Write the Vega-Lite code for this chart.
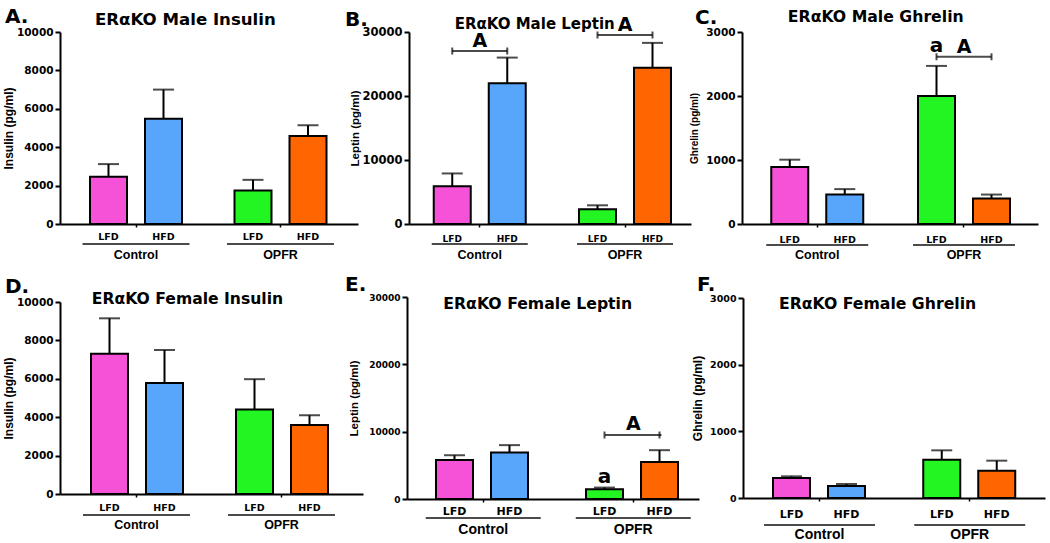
{
  "$schema": "https://vega.github.io/schema/vega-lite/v6.json",
  "background": "white",
  "padding": {"left": 2, "top": 6, "right": 5, "bottom": 5},
  "config": {
    "view": {"stroke": null},
    "font": "DejaVu Sans",
    "axis": {"domainColor": "black", "domainWidth": 2, "tickColor": "black", "labelColor": "black", "titleColor": "black", "grid": false, "labelFontWeight": "bold", "titleFontWeight": "bold", "labelOverlap": false},
    "axisX": {"tickSize": 3, "tickWidth": 1.5, "labelFont": "Liberation Sans", "labelFontSize": 12.5, "labelPadding": 21, "labelAngle": 0},
    "axisY": {"tickSize": 5, "tickWidth": 2, "labelFont": "DejaVu Sans", "labelFontSize": 10.5, "labelPadding": 2, "titleFont": "Liberation Sans", "titleFontSize": 12, "titlePadding": 1, "labelOverlap": false},
    "bar": {"stroke": "black", "strokeWidth": 2},
    "rule": {"color": "black", "strokeWidth": 2},
    "tick": {"color": "black", "thickness": 2},
    "text": {"font": "DejaVu Sans", "fontWeight": "bold", "color": "black"},
    "title": {"anchor": "start", "frame": "group", "font": "DejaVu Sans", "fontSize": 20, "fontWeight": "bold", "color": "black", "subtitleFont": "DejaVu Sans", "subtitleFontSize": 16, "subtitleFontWeight": "bold", "subtitleColor": "black"}
  },
  "datasets": {
    "bars": [
      {"panel": "A", "group": "Control", "diet": "LFD", "key": "Control LFD", "mean": 2460, "upper": 3120},
      {"panel": "A", "group": "Control", "diet": "HFD", "key": "Control HFD", "mean": 5480, "upper": 7000},
      {"panel": "A", "group": "OPFR", "diet": "LFD", "key": "OPFR LFD", "mean": 1750, "upper": 2300},
      {"panel": "A", "group": "OPFR", "diet": "HFD", "key": "OPFR HFD", "mean": 4580, "upper": 5140},
      {"panel": "B", "group": "Control", "diet": "LFD", "key": "Control LFD", "mean": 5900, "upper": 7900},
      {"panel": "B", "group": "Control", "diet": "HFD", "key": "Control HFD", "mean": 22000, "upper": 26000},
      {"panel": "B", "group": "OPFR", "diet": "LFD", "key": "OPFR LFD", "mean": 2300, "upper": 2920},
      {"panel": "B", "group": "OPFR", "diet": "HFD", "key": "OPFR HFD", "mean": 24400, "upper": 28300},
      {"panel": "C", "group": "Control", "diet": "LFD", "key": "Control LFD", "mean": 890, "upper": 1005},
      {"panel": "C", "group": "Control", "diet": "HFD", "key": "Control HFD", "mean": 460, "upper": 545},
      {"panel": "C", "group": "OPFR", "diet": "LFD", "key": "OPFR LFD", "mean": 2000, "upper": 2470},
      {"panel": "C", "group": "OPFR", "diet": "HFD", "key": "OPFR HFD", "mean": 400, "upper": 460},
      {"panel": "D", "group": "Control", "diet": "LFD", "key": "Control LFD", "mean": 7300, "upper": 9150},
      {"panel": "D", "group": "Control", "diet": "HFD", "key": "Control HFD", "mean": 5780, "upper": 7500},
      {"panel": "D", "group": "OPFR", "diet": "LFD", "key": "OPFR LFD", "mean": 4400, "upper": 5980},
      {"panel": "D", "group": "OPFR", "diet": "HFD", "key": "OPFR HFD", "mean": 3600, "upper": 4100},
      {"panel": "E", "group": "Control", "diet": "LFD", "key": "Control LFD", "mean": 5800, "upper": 6500},
      {"panel": "E", "group": "Control", "diet": "HFD", "key": "Control HFD", "mean": 6900, "upper": 8000},
      {"panel": "E", "group": "OPFR", "diet": "LFD", "key": "OPFR LFD", "mean": 1450, "upper": 1700},
      {"panel": "E", "group": "OPFR", "diet": "HFD", "key": "OPFR HFD", "mean": 5500, "upper": 7250},
      {"panel": "F", "group": "Control", "diet": "LFD", "key": "Control LFD", "mean": 300, "upper": 325},
      {"panel": "F", "group": "Control", "diet": "HFD", "key": "Control HFD", "mean": 180, "upper": 210},
      {"panel": "F", "group": "OPFR", "diet": "LFD", "key": "OPFR LFD", "mean": 575, "upper": 715},
      {"panel": "F", "group": "OPFR", "diet": "HFD", "key": "OPFR HFD", "mean": 410, "upper": 560}
    ],
    "brackets": [
      {"panel": "B", "group": "Control", "diet": "LFD", "label": "A", "y": 27030},
      {"panel": "B", "group": "Control", "diet": "HFD", "label": "A", "y": 27030},
      {"panel": "B", "group": "OPFR", "diet": "LFD", "label": "A", "y": 29530},
      {"panel": "B", "group": "OPFR", "diet": "HFD", "label": "A", "y": 29530},
      {"panel": "C", "group": "OPFR", "diet": "LFD", "label": "A", "y": 2613},
      {"panel": "C", "group": "OPFR", "diet": "HFD", "label": "A", "y": 2613},
      {"panel": "E", "group": "OPFR", "diet": "LFD", "label": "A", "y": 9505},
      {"panel": "E", "group": "OPFR", "diet": "HFD", "label": "A", "y": 9505}
    ],
    "letters": [
      {"panel": "C", "group": "OPFR", "diet": "LFD", "label": "a", "y": 2690},
      {"panel": "E", "group": "OPFR", "diet": "LFD", "label": "a", "y": 2376}
    ]
  },
  "spacing": 13,
  "vconcat": [
    {
      "hconcat": [
        {
          "width": 298, "height": 192,
          "title": {"text": "A.", "subtitle": "\u200b\u00a0\u00a0\u00a0\u00a0\u00a0\u00a0\u00a0\u00a0\u00a0\u00a0\u00a0\u00a0\u00a0\u00a0\u00a0\u2009ERαKO Male Insulin", "subtitleFontSize": 16.6, "dx": -55, "offset": -1.6, "subtitlePadding": -14.6},
          "layer": [
            {"data": {"name": "bars"}, "transform": [{"filter": "datum.panel === 'A'"}], "mark": "bar",
             "encoding": {
               "x": {"field": "group", "type": "nominal", "sort": ["Control", "OPFR"], "scale": {"paddingInner": 0.3633, "paddingOuter": 0.2128, "align": 0.4878}, "axis": {"title": null}},
               "xOffset": {"field": "diet", "type": "nominal", "sort": ["LFD", "HFD"], "scale": {"paddingInner": 0.3273, "paddingOuter": 0}},
               "y": {"field": "mean", "type": "quantitative", "scale": {"domain": [0, 10000], "nice": false}, "axis": {"title": "Insulin (pg/ml)", "values": [0, 2000, 4000, 6000, 8000, 10000], "tickCount": 10, "labelOverlap": false, "format": "d"}},
               "color": {"field": "key", "type": "nominal", "scale": {"domain": ["Control LFD", "Control HFD", "OPFR LFD", "OPFR HFD"], "range": ["#F652D8", "#58A6FC", "#22F522", "#FF6500"]}, "legend": null}
             }},
            {"data": {"name": "bars"}, "transform": [{"filter": "datum.panel === 'A'"}], "mark": "rule",
             "encoding": {"x": {"field": "group", "type": "nominal", "sort": ["Control", "OPFR"]}, "xOffset": {"field": "diet", "type": "nominal", "sort": ["LFD", "HFD"]}, "y": {"field": "mean", "type": "quantitative"}, "y2": {"field": "upper"}}},
            {"data": {"name": "bars"}, "transform": [{"filter": "datum.panel === 'A'"}], "mark": {"type": "tick", "orient": "horizontal", "size": 21},
             "encoding": {"x": {"field": "group", "type": "nominal", "sort": ["Control", "OPFR"]}, "xOffset": {"field": "diet", "type": "nominal", "sort": ["LFD", "HFD"]}, "y": {"field": "upper", "type": "quantitative"}}},
            {"data": {"name": "bars"}, "transform": [{"filter": "datum.panel === 'A'"}], "mark": {"type": "text", "baseline": "top", "dy": 8, "fontSize": 9.5},
             "encoding": {"x": {"field": "group", "type": "nominal", "sort": ["Control", "OPFR"]}, "xOffset": {"field": "diet", "type": "nominal", "sort": ["LFD", "HFD"]}, "y": {"datum": 0}, "text": {"field": "diet"}}},
            {"data": {"name": "bars"}, "transform": [{"filter": "datum.panel === 'A' && datum.diet === 'LFD'"}], "mark": {"type": "tick", "orient": "horizontal", "size": 107, "yOffset": 20},
             "encoding": {"x": {"field": "group", "type": "nominal", "sort": ["Control", "OPFR"]}, "y": {"datum": 0}}}
          ]
        },
        {
          "width": 282, "height": 192,
          "title": {"text": "B.", "subtitle": "\u200b\u00a0\u00a0\u00a0\u00a0\u00a0\u00a0\u00a0\u00a0\u00a0\u00a0\u00a0\u00a0\u00a0\u00a0\u00a0\u00a0\u00a0\u00a0\u00a0\u00a0\u00a0ERαKO Male Leptin", "subtitleFontSize": 15, "dx": -64, "offset": -15.6, "subtitlePadding": -13.6},
          "layer": [
            {"data": {"name": "bars"}, "transform": [{"filter": "datum.panel === 'B'"}], "mark": "bar",
             "encoding": {
               "x": {"field": "group", "type": "nominal", "sort": ["Control", "OPFR"], "scale": {"paddingInner": 0.3666, "paddingOuter": 0.154, "align": 0.5531}, "axis": {"title": null}},
               "xOffset": {"field": "diet", "type": "nominal", "sort": ["LFD", "HFD"], "scale": {"paddingInner": 0.3273, "paddingOuter": 0}},
               "y": {"field": "mean", "type": "quantitative", "scale": {"domain": [0, 30000], "nice": false}, "axis": {"title": "Leptin (pg/ml)", "titleFontSize": 11.5, "labelFontSize": 11.5, "values": [0, 10000, 20000, 30000], "tickCount": 10, "labelOverlap": false, "format": "d"}},
               "color": {"field": "key", "type": "nominal", "scale": {"domain": ["Control LFD", "Control HFD", "OPFR LFD", "OPFR HFD"], "range": ["#F652D8", "#58A6FC", "#22F522", "#FF6500"]}, "legend": null}
             }},
            {"data": {"name": "bars"}, "transform": [{"filter": "datum.panel === 'B'"}], "mark": "rule",
             "encoding": {"x": {"field": "group", "type": "nominal", "sort": ["Control", "OPFR"]}, "xOffset": {"field": "diet", "type": "nominal", "sort": ["LFD", "HFD"]}, "y": {"field": "mean", "type": "quantitative"}, "y2": {"field": "upper"}}},
            {"data": {"name": "bars"}, "transform": [{"filter": "datum.panel === 'B'"}], "mark": {"type": "tick", "orient": "horizontal", "size": 21},
             "encoding": {"x": {"field": "group", "type": "nominal", "sort": ["Control", "OPFR"]}, "xOffset": {"field": "diet", "type": "nominal", "sort": ["LFD", "HFD"]}, "y": {"field": "upper", "type": "quantitative"}}},
            {"data": {"name": "bars"}, "transform": [{"filter": "datum.panel === 'B'"}], "mark": {"type": "text", "baseline": "top", "dy": 11, "fontSize": 9},
             "encoding": {"x": {"field": "group", "type": "nominal", "sort": ["Control", "OPFR"]}, "xOffset": {"field": "diet", "type": "nominal", "sort": ["LFD", "HFD"]}, "y": {"datum": 0}, "text": {"field": "diet"}}},
            {"data": {"name": "bars"}, "transform": [{"filter": "datum.panel === 'B' && datum.diet === 'LFD'"}], "mark": {"type": "tick", "orient": "horizontal", "size": 96, "yOffset": 20},
             "encoding": {"x": {"field": "group", "type": "nominal", "sort": ["Control", "OPFR"]}, "y": {"datum": 0}}},
            {"data": {"name": "brackets"}, "transform": [{"filter": "datum.panel === 'B' && datum.diet === 'LFD'"}], "mark": {"type": "tick", "orient": "horizontal", "size": 55},
             "encoding": {"x": {"field": "group", "type": "nominal", "sort": ["Control", "OPFR"]}, "y": {"field": "y", "type": "quantitative"}}},
            {"data": {"name": "brackets"}, "transform": [{"filter": "datum.panel === 'B'"}], "mark": {"type": "tick", "orient": "vertical", "size": 7},
             "encoding": {"x": {"field": "group", "type": "nominal", "sort": ["Control", "OPFR"]}, "xOffset": {"field": "diet", "type": "nominal", "sort": ["LFD", "HFD"]}, "y": {"field": "y", "type": "quantitative"}}},
            {"data": {"name": "brackets"}, "transform": [{"filter": "datum.panel === 'B' && datum.diet === 'LFD'"}], "mark": {"type": "text", "baseline": "alphabetic", "dy": -4, "fontSize": 19},
             "encoding": {"x": {"field": "group", "type": "nominal", "sort": ["Control", "OPFR"]}, "y": {"field": "y", "type": "quantitative"}, "text": {"field": "label"}}}
          ]
        },
        {
          "width": 296, "height": 192,
          "title": {"text": "C.", "subtitle": "\u200b\u00a0\u00a0\u00a0\u00a0\u00a0\u00a0\u00a0\u00a0\u00a0\u00a0\u00a0\u00a0\u00a0\u00a0\u00a0\u00a0\u00a0ERαKO Male Ghrelin", "subtitleFontSize": 15.7, "dx": -47, "offset": -0.6, "subtitlePadding": -17.6},
          "layer": [
            {"data": {"name": "bars"}, "transform": [{"filter": "datum.panel === 'C'"}], "mark": "bar",
             "encoding": {
               "x": {"field": "group", "type": "nominal", "sort": ["Control", "OPFR"], "scale": {"paddingInner": 0.3731, "paddingOuter": 0.1951, "align": 0.5109}, "axis": {"title": null}},
               "xOffset": {"field": "diet", "type": "nominal", "sort": ["LFD", "HFD"], "scale": {"paddingInner": 0.3273, "paddingOuter": 0}},
               "y": {"field": "mean", "type": "quantitative", "scale": {"domain": [0, 3000], "nice": false}, "axis": {"title": "Ghrelin (pg/ml)", "titleFontSize": 10, "titlePadding": 6, "values": [0, 1000, 2000, 3000], "tickCount": 10, "labelOverlap": false, "format": "d"}},
               "color": {"field": "key", "type": "nominal", "scale": {"domain": ["Control LFD", "Control HFD", "OPFR LFD", "OPFR HFD"], "range": ["#F652D8", "#58A6FC", "#22F522", "#FF6500"]}, "legend": null}
             }},
            {"data": {"name": "bars"}, "transform": [{"filter": "datum.panel === 'C'"}], "mark": "rule",
             "encoding": {"x": {"field": "group", "type": "nominal", "sort": ["Control", "OPFR"]}, "xOffset": {"field": "diet", "type": "nominal", "sort": ["LFD", "HFD"]}, "y": {"field": "mean", "type": "quantitative"}, "y2": {"field": "upper"}}},
            {"data": {"name": "bars"}, "transform": [{"filter": "datum.panel === 'C'"}], "mark": {"type": "tick", "orient": "horizontal", "size": 21},
             "encoding": {"x": {"field": "group", "type": "nominal", "sort": ["Control", "OPFR"]}, "xOffset": {"field": "diet", "type": "nominal", "sort": ["LFD", "HFD"]}, "y": {"field": "upper", "type": "quantitative"}}},
            {"data": {"name": "bars"}, "transform": [{"filter": "datum.panel === 'C'"}], "mark": {"type": "text", "baseline": "top", "dy": 11, "fontSize": 9.5},
             "encoding": {"x": {"field": "group", "type": "nominal", "sort": ["Control", "OPFR"]}, "xOffset": {"field": "diet", "type": "nominal", "sort": ["LFD", "HFD"]}, "y": {"datum": 0}, "text": {"field": "diet"}}},
            {"data": {"name": "bars"}, "transform": [{"filter": "datum.panel === 'C' && datum.diet === 'LFD'"}], "mark": {"type": "tick", "orient": "horizontal", "size": 102, "yOffset": 21},
             "encoding": {"x": {"field": "group", "type": "nominal", "sort": ["Control", "OPFR"]}, "y": {"datum": 0}}},
            {"data": {"name": "brackets"}, "transform": [{"filter": "datum.panel === 'C' && datum.diet === 'LFD'"}], "mark": {"type": "tick", "orient": "horizontal", "size": 55},
             "encoding": {"x": {"field": "group", "type": "nominal", "sort": ["Control", "OPFR"]}, "y": {"field": "y", "type": "quantitative"}}},
            {"data": {"name": "brackets"}, "transform": [{"filter": "datum.panel === 'C'"}], "mark": {"type": "tick", "orient": "vertical", "size": 7},
             "encoding": {"x": {"field": "group", "type": "nominal", "sort": ["Control", "OPFR"]}, "xOffset": {"field": "diet", "type": "nominal", "sort": ["LFD", "HFD"]}, "y": {"field": "y", "type": "quantitative"}}},
            {"data": {"name": "brackets"}, "transform": [{"filter": "datum.panel === 'C' && datum.diet === 'LFD'"}], "mark": {"type": "text", "baseline": "alphabetic", "dy": -4, "fontSize": 19},
             "encoding": {"x": {"field": "group", "type": "nominal", "sort": ["Control", "OPFR"]}, "y": {"field": "y", "type": "quantitative"}, "text": {"field": "label"}}},
            {"data": {"name": "letters"}, "transform": [{"filter": "datum.panel === 'C'"}], "mark": {"type": "text", "baseline": "alphabetic", "fontSize": 20},
             "encoding": {"x": {"field": "group", "type": "nominal", "sort": ["Control", "OPFR"]}, "xOffset": {"field": "diet", "type": "nominal", "sort": ["LFD", "HFD"]}, "y": {"field": "y", "type": "quantitative"}, "text": {"field": "label"}}}
          ]
        }
      ],
      "spacing": 51,
      "bounds": "flush"
    },
    {
      "hconcat": [
        {
          "width": 303, "height": 192,
          "title": {"text": "D.", "subtitle": "\u200b\u00a0\u00a0\u00a0\u00a0\u00a0\u00a0\u00a0\u00a0\u00a0\u00a0\u00a0\u00a0\u00a0\u00a0\u00a0\u00a0ERαKO Female Insulin", "subtitleFontSize": 15.6, "dx": -55, "offset": -11, "subtitlePadding": -4.6},
          "layer": [
            {"data": {"name": "bars"}, "transform": [{"filter": "datum.panel === 'D'"}], "mark": "bar",
             "encoding": {
               "x": {"field": "group", "type": "nominal", "sort": ["Control", "OPFR"], "scale": {"paddingInner": 0.3724, "paddingOuter": 0.231, "align": 0.4627}, "axis": {"title": null}},
               "xOffset": {"field": "diet", "type": "nominal", "sort": ["LFD", "HFD"], "scale": {"paddingInner": 0.3148, "paddingOuter": 0}},
               "y": {"field": "mean", "type": "quantitative", "scale": {"domain": [0, 10000], "nice": false}, "axis": {"title": "Insulin (pg/ml)", "values": [0, 2000, 4000, 6000, 8000, 10000], "tickCount": 10, "labelOverlap": false, "format": "d"}},
               "color": {"field": "key", "type": "nominal", "scale": {"domain": ["Control LFD", "Control HFD", "OPFR LFD", "OPFR HFD"], "range": ["#F652D8", "#58A6FC", "#22F522", "#FF6500"]}, "legend": null}
             }},
            {"data": {"name": "bars"}, "transform": [{"filter": "datum.panel === 'D'"}], "mark": "rule",
             "encoding": {"x": {"field": "group", "type": "nominal", "sort": ["Control", "OPFR"]}, "xOffset": {"field": "diet", "type": "nominal", "sort": ["LFD", "HFD"]}, "y": {"field": "mean", "type": "quantitative"}, "y2": {"field": "upper"}}},
            {"data": {"name": "bars"}, "transform": [{"filter": "datum.panel === 'D'"}], "mark": {"type": "tick", "orient": "horizontal", "size": 21},
             "encoding": {"x": {"field": "group", "type": "nominal", "sort": ["Control", "OPFR"]}, "xOffset": {"field": "diet", "type": "nominal", "sort": ["LFD", "HFD"]}, "y": {"field": "upper", "type": "quantitative"}}},
            {"data": {"name": "bars"}, "transform": [{"filter": "datum.panel === 'D'"}], "mark": {"type": "text", "baseline": "top", "dy": 9, "fontSize": 9.5},
             "encoding": {"x": {"field": "group", "type": "nominal", "sort": ["Control", "OPFR"]}, "xOffset": {"field": "diet", "type": "nominal", "sort": ["LFD", "HFD"]}, "y": {"datum": 0}, "text": {"field": "diet"}}},
            {"data": {"name": "bars"}, "transform": [{"filter": "datum.panel === 'D' && datum.diet === 'LFD'"}], "mark": {"type": "tick", "orient": "horizontal", "size": 107, "yOffset": 21},
             "encoding": {"x": {"field": "group", "type": "nominal", "sort": ["Control", "OPFR"]}, "y": {"datum": 0}}}
          ]
        },
        {
          "width": 292, "height": 202,
          "title": {"text": "E.", "subtitle": "\u200b\u00a0\u00a0\u00a0\u00a0\u00a0\u00a0\u00a0\u00a0\u00a0\u00a0\u00a0\u00a0\u00a0\u00a0\u00a0\u00a0\u00a0\u00a0ERαKO Female Leptin", "subtitleFontSize": 15.7, "dx": -62, "offset": -18.6, "subtitlePadding": 2.4},
          "layer": [
            {"data": {"name": "bars"}, "transform": [{"filter": "datum.panel === 'E'"}], "mark": "bar",
             "encoding": {
               "x": {"field": "group", "type": "nominal", "sort": ["Control", "OPFR"], "scale": {"paddingInner": 0.37, "paddingOuter": 0.1583, "align": 0.6105}, "axis": {"title": null, "labelFontSize": 14, "labelPadding": 20}},
               "xOffset": {"field": "diet", "type": "nominal", "sort": ["LFD", "HFD"], "scale": {"paddingInner": 0.3274, "paddingOuter": 0}},
               "y": {"field": "mean", "type": "quantitative", "scale": {"domain": [0, 30000], "nice": false}, "axis": {"title": "Leptin (pg/ml)", "titleFontSize": 11.5, "labelFontSize": 9, "titlePadding": 9, "values": [0, 10000, 20000, 30000], "tickCount": 10, "labelOverlap": false, "format": "d"}},
               "color": {"field": "key", "type": "nominal", "scale": {"domain": ["Control LFD", "Control HFD", "OPFR LFD", "OPFR HFD"], "range": ["#F652D8", "#58A6FC", "#22F522", "#FF6500"]}, "legend": null}
             }},
            {"data": {"name": "bars"}, "transform": [{"filter": "datum.panel === 'E'"}], "mark": "rule",
             "encoding": {"x": {"field": "group", "type": "nominal", "sort": ["Control", "OPFR"]}, "xOffset": {"field": "diet", "type": "nominal", "sort": ["LFD", "HFD"]}, "y": {"field": "mean", "type": "quantitative"}, "y2": {"field": "upper"}}},
            {"data": {"name": "bars"}, "transform": [{"filter": "datum.panel === 'E'"}], "mark": {"type": "tick", "orient": "horizontal", "size": 21},
             "encoding": {"x": {"field": "group", "type": "nominal", "sort": ["Control", "OPFR"]}, "xOffset": {"field": "diet", "type": "nominal", "sort": ["LFD", "HFD"]}, "y": {"field": "upper", "type": "quantitative"}}},
            {"data": {"name": "bars"}, "transform": [{"filter": "datum.panel === 'E'"}], "mark": {"type": "text", "baseline": "top", "dy": 7, "fontSize": 11},
             "encoding": {"x": {"field": "group", "type": "nominal", "sort": ["Control", "OPFR"]}, "xOffset": {"field": "diet", "type": "nominal", "sort": ["LFD", "HFD"]}, "y": {"datum": 0}, "text": {"field": "diet"}}},
            {"data": {"name": "bars"}, "transform": [{"filter": "datum.panel === 'E' && datum.diet === 'LFD'"}], "mark": {"type": "tick", "orient": "horizontal", "size": 115, "yOffset": 19},
             "encoding": {"x": {"field": "group", "type": "nominal", "sort": ["Control", "OPFR"]}, "y": {"datum": 0}}},
            {"data": {"name": "brackets"}, "transform": [{"filter": "datum.panel === 'E' && datum.diet === 'LFD'"}], "mark": {"type": "tick", "orient": "horizontal", "size": 56.5},
             "encoding": {"x": {"field": "group", "type": "nominal", "sort": ["Control", "OPFR"]}, "y": {"field": "y", "type": "quantitative"}}},
            {"data": {"name": "brackets"}, "transform": [{"filter": "datum.panel === 'E'"}], "mark": {"type": "tick", "orient": "vertical", "size": 7},
             "encoding": {"x": {"field": "group", "type": "nominal", "sort": ["Control", "OPFR"]}, "xOffset": {"field": "diet", "type": "nominal", "sort": ["LFD", "HFD"]}, "y": {"field": "y", "type": "quantitative"}}},
            {"data": {"name": "brackets"}, "transform": [{"filter": "datum.panel === 'E' && datum.diet === 'LFD'"}], "mark": {"type": "text", "baseline": "alphabetic", "dy": -5, "fontSize": 19},
             "encoding": {"x": {"field": "group", "type": "nominal", "sort": ["Control", "OPFR"]}, "y": {"field": "y", "type": "quantitative"}, "text": {"field": "label"}}},
            {"data": {"name": "letters"}, "transform": [{"filter": "datum.panel === 'E'"}], "mark": {"type": "text", "baseline": "alphabetic", "fontSize": 20},
             "encoding": {"x": {"field": "group", "type": "nominal", "sort": ["Control", "OPFR"]}, "xOffset": {"field": "diet", "type": "nominal", "sort": ["LFD", "HFD"]}, "y": {"field": "y", "type": "quantitative"}, "text": {"field": "label"}}}
          ]
        },
        {
          "width": 302, "height": 200,
          "title": {"text": "F.", "subtitle": "\u200b\u00a0\u00a0\u00a0\u00a0\u00a0\u00a0\u00a0\u00a0\u00a0\u00a0\u00a0\u00a0\u00a0\u00a0\u00a0ERαKO Female Ghrelin", "subtitleFontSize": 15.7, "dx": -46, "offset": -18.6, "subtitlePadding": 2.4},
          "layer": [
            {"data": {"name": "bars"}, "transform": [{"filter": "datum.panel === 'F'"}], "mark": "bar",
             "encoding": {
               "x": {"field": "group", "type": "nominal", "sort": ["Control", "OPFR"], "scale": {"paddingInner": 0.381, "paddingOuter": 0.1955, "align": 0.5106}, "axis": {"title": null, "labelFontSize": 14, "labelPadding": 26}},
               "xOffset": {"field": "diet", "type": "nominal", "sort": ["LFD", "HFD"], "scale": {"paddingInner": 0.3243, "paddingOuter": 0}},
               "y": {"field": "mean", "type": "quantitative", "scale": {"domain": [0, 3000], "nice": false}, "axis": {"title": "Ghrelin (pg/ml)", "labelFontSize": 9.5, "titlePadding": 5, "values": [0, 1000, 2000, 3000], "tickCount": 10, "labelOverlap": false, "format": "d"}},
               "color": {"field": "key", "type": "nominal", "scale": {"domain": ["Control LFD", "Control HFD", "OPFR LFD", "OPFR HFD"], "range": ["#F652D8", "#58A6FC", "#22F522", "#FF6500"]}, "legend": null}
             }},
            {"data": {"name": "bars"}, "transform": [{"filter": "datum.panel === 'F'"}], "mark": "rule",
             "encoding": {"x": {"field": "group", "type": "nominal", "sort": ["Control", "OPFR"]}, "xOffset": {"field": "diet", "type": "nominal", "sort": ["LFD", "HFD"]}, "y": {"field": "mean", "type": "quantitative"}, "y2": {"field": "upper"}}},
            {"data": {"name": "bars"}, "transform": [{"filter": "datum.panel === 'F'"}], "mark": {"type": "tick", "orient": "horizontal", "size": 21},
             "encoding": {"x": {"field": "group", "type": "nominal", "sort": ["Control", "OPFR"]}, "xOffset": {"field": "diet", "type": "nominal", "sort": ["LFD", "HFD"]}, "y": {"field": "upper", "type": "quantitative"}}},
            {"data": {"name": "bars"}, "transform": [{"filter": "datum.panel === 'F'"}], "mark": {"type": "text", "baseline": "top", "dy": 11, "fontSize": 11},
             "encoding": {"x": {"field": "group", "type": "nominal", "sort": ["Control", "OPFR"]}, "xOffset": {"field": "diet", "type": "nominal", "sort": ["LFD", "HFD"]}, "y": {"datum": 0}, "text": {"field": "diet"}}},
            {"data": {"name": "bars"}, "transform": [{"filter": "datum.panel === 'F' && datum.diet === 'LFD'"}], "mark": {"type": "tick", "orient": "horizontal", "size": 111, "yOffset": 27},
             "encoding": {"x": {"field": "group", "type": "nominal", "sort": ["Control", "OPFR"]}, "y": {"datum": 0}}}
          ]
        }
      ],
      "spacing": 44,
      "bounds": "flush",
      "center": true
    }
  ]
}
